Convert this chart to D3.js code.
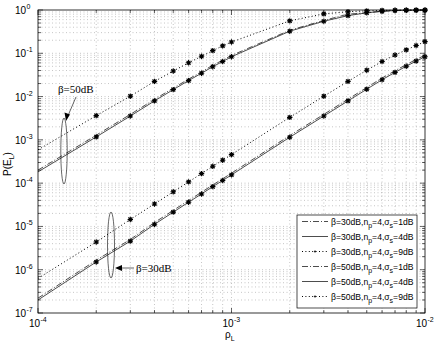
<!DOCTYPE html>
<html><head><meta charset="utf-8">
<script src="https://cdn.jsdelivr.net/npm/d3@7"></script>
<style>body{margin:0;background:#fff}svg{display:block}</style>
</head><body>
<svg id="c" width="436" height="346"></svg>
<script>
const rho = [1e-4,2e-4,3e-4,4e-4,5e-4,6e-4,7e-4,8e-4,9e-4,1e-3,2e-3,3e-3,4e-3,5e-3,6e-3,7e-3,8e-3,9e-3,1e-2];
const p30s1 = [2.2e-7,1.66e-6,5.0e-6,1.23e-5,2.35e-5,3.98e-5,6.17e-5,9.1e-5,1.26e-4,1.70e-4,1.26e-3,3.88e-3,8.7e-3,0.0162,0.0268,0.0396,0.0546,0.0720,0.0905];
const p30s4 = [2.0e-7,1.51e-6,4.57e-6,1.12e-5,2.14e-5,3.63e-5,5.62e-5,8.32e-5,1.15e-4,1.55e-4,1.15e-3,3.55e-3,7.94e-3,0.0148,0.0245,0.0363,0.0501,0.0661,0.0832];
const p30s9 = [6.31e-7,4.37e-6,1.45e-5,3.31e-5,6.31e-5,1.07e-4,1.66e-4,2.45e-4,3.39e-4,4.57e-4,3.31e-3,0.0102,0.0224,0.0407,0.0646,0.0912,0.120,0.151,0.186];
const p50s1 = [2.0e-4,1.28e-3,3.88e-3,8.6e-3,0.0157,0.0253,0.0374,0.0527,0.0693,0.089,0.340,0.575,0.80,0.866,0.936,0.974,0.987,0.993,0.995];
const p50s4 = [1.82e-4,1.17e-3,3.55e-3,7.94e-3,0.0145,0.0234,0.0347,0.0490,0.0646,0.0832,0.324,0.550,0.741,0.861,0.933,0.973,0.986,0.993,0.995];
const p50s9 = [5.89e-4,3.63e-3,0.0102,0.0224,0.0389,0.0603,0.0851,0.115,0.148,0.182,0.562,0.813,0.912,0.955,0.977,0.989,0.993,0.995,0.998];
const xTickExp = [-4,-3,-2];
const yTickExp = [0,-1,-2,-3,-4,-5,-6,-7];
const legendLabels = [
  ["β=30dB,n","p","=4,σ","s","=1dB"],
  ["β=30dB,n","p","=4,σ","s","=4dB"],
  ["β=30dB,n","p","=4,σ","s","=9dB"],
  ["β=50dB,n","p","=4,σ","s","=1dB"],
  ["β=50dB,n","p","=4,σ","s","=4dB"],
  ["β=50dB,n","p","=4,σ","s","=9dB"]
];

const L=38, R=425, T=10, B=313;
const svg = d3.select("#c");
const x = d3.scaleLog().domain([1e-4,1e-2]).range([L,R]);
const y = d3.scaleLog().domain([1e-7,1]).range([B,T]);

const xg=[], yg=[];
for (let e=-4;e<-2;e++) for (let m=1;m<10;m++) xg.push(m*Math.pow(10,e));
xg.push(1e-2);
for (let e=-7;e<0;e++) for (let m=1;m<10;m++) yg.push(m*Math.pow(10,e));
yg.push(1);

const grid = svg.append("g").attr("stroke","#a0a0a0").attr("stroke-width",0.6).attr("stroke-dasharray","1,2.5");
grid.selectAll("line.gx").data(xg.filter(v=>v>1e-4*1.01 && v<1e-2*0.99)).join("line")
  .attr("x1",d=>x(d)).attr("x2",d=>x(d)).attr("y1",T).attr("y2",B);
grid.selectAll("line.gy").data(yg.filter(v=>v>1e-7*1.01 && v<0.99)).join("line")
  .attr("y1",d=>y(d)).attr("y2",d=>y(d)).attr("x1",L).attr("x2",R);

const tk = svg.append("g").attr("stroke","#000").attr("stroke-width",0.6);
xg.forEach(v=>{
  const major = xTickExp.some(e=>Math.abs(Math.log10(v)-e)<1e-6);
  const len = major?5:3;
  tk.append("line").attr("x1",x(v)).attr("x2",x(v)).attr("y1",B).attr("y2",B-len);
  tk.append("line").attr("x1",x(v)).attr("x2",x(v)).attr("y1",T).attr("y2",T+len);
});
yg.forEach(v=>{
  const major = yTickExp.some(e=>Math.abs(Math.log10(v)-e)<1e-6);
  const len = major?5:3;
  tk.append("line").attr("y1",y(v)).attr("y2",y(v)).attr("x1",L).attr("x2",L+len);
  tk.append("line").attr("y1",y(v)).attr("y2",y(v)).attr("x1",R).attr("x2",R-len);
});

const line = d3.line().x((d,i)=>x(rho[i])).y(d=>y(d));
const styles = [
  {data:p30s1, dash:"6,2,1,2", w:0.7},
  {data:p30s4, dash:null, w:0.7},
  {data:p30s9, dash:"1,2.4", w:1.0},
  {data:p50s1, dash:"6,2,1,2", w:0.7},
  {data:p50s4, dash:null, w:0.7},
  {data:p50s9, dash:"1,2.4", w:1.0}
];
const cg = svg.append("g");
styles.forEach(s=>{
  cg.append("path").attr("d",line(s.data)).attr("fill","none").attr("stroke","#000")
    .attr("stroke-width",s.w).attr("stroke-dasharray",s.dash);
});

const star = (g,cx,cy,r)=>{
  const p=d3.path();
  p.moveTo(cx-r,cy);p.lineTo(cx+r,cy);
  p.moveTo(cx,cy-r);p.lineTo(cx,cy+r);
  const k=r*0.72;
  p.moveTo(cx-k,cy-k);p.lineTo(cx+k,cy+k);
  p.moveTo(cx-k,cy+k);p.lineTo(cx+k,cy-k);
  g.append("path").attr("d",p.toString()).attr("stroke","#000").attr("stroke-width",1.1).attr("fill","none");
};
const mg = svg.append("g");
[p30s4,p30s9,p50s4,p50s9].forEach(arr=>{
  arr.forEach((v,i)=>{ if(i>0) star(mg,x(rho[i]),y(v),2.7); });
});

svg.append("rect").attr("x",L).attr("y",T).attr("width",R-L).attr("height",B-T)
  .attr("fill","none").attr("stroke","#000").attr("stroke-width",0.8);

const font = "Liberation Sans, Arial, sans-serif";
yTickExp.forEach(e=>{
  svg.append("text").attr("x",L-12).attr("y",y(Math.pow(10,e))+4)
    .attr("font-family",font).attr("font-size",10).attr("text-anchor","end").text("10");
  svg.append("text").attr("x",L-11.5).attr("y",y(Math.pow(10,e))-1)
    .attr("font-family",font).attr("font-size",7).text(e);
});
xTickExp.forEach(e=>{
  svg.append("text").attr("x",x(Math.pow(10,e))+2).attr("y",B+14)
    .attr("font-family",font).attr("font-size",10).attr("text-anchor","end").text("10");
  svg.append("text").attr("x",x(Math.pow(10,e))+2.5).attr("y",B+9)
    .attr("font-family",font).attr("font-size",7).text(e);
});

const xl = svg.append("text").attr("x",225).attr("y",338).attr("font-family",font).attr("font-size",10);
xl.append("tspan").text("ρ");
xl.append("tspan").attr("font-size",7).attr("dy",3).text("L");
const yl = svg.append("text").attr("transform","translate(11,164) rotate(-90)")
  .attr("font-family",font).attr("font-size",10).attr("text-anchor","middle");
yl.append("tspan").text("P(E");
yl.append("tspan").attr("font-size",7).attr("dy",3).text("L");
yl.append("tspan").attr("dy",-3).text(")");

const serif = "Liberation Serif, Times New Roman, serif";
svg.append("ellipse").attr("cx",64).attr("cy",151).attr("rx",3.2).attr("ry",33)
  .attr("fill","none").attr("stroke","#000").attr("stroke-width",0.6);
svg.append("ellipse").attr("cx",111).attr("cy",245).attr("rx",3.5).attr("ry",33)
  .attr("fill","none").attr("stroke","#000").attr("stroke-width",0.6);
svg.append("line").attr("x1",76).attr("y1",97).attr("x2",67).attr("y2",118).attr("stroke","#000").attr("stroke-width",0.6);
svg.append("path").attr("d","M66,121 L64.5,112.5 L70,114.5 Z").attr("fill","#000");
svg.append("text").attr("x",58).attr("y",93).attr("font-family",serif).attr("font-size",11).text("β=50dB");
svg.append("line").attr("x1",134).attr("y1",268).attr("x2",118).attr("y2",268).attr("stroke","#000").attr("stroke-width",0.6);
svg.append("path").attr("d","M115,268 L122,265 L122,271 Z").attr("fill","#000");
svg.append("text").attr("x",136).attr("y",272).attr("font-family",serif).attr("font-size",11).text("β=30dB");

const lg = svg.append("g");
lg.append("rect").attr("x",297).attr("y",215).attr("width",120).attr("height",93)
  .attr("fill","#fff").attr("stroke","#000").attr("stroke-width",0.7);
const ly0 = 221.5, ldy = 15;
legendLabels.forEach((lab,i)=>{
  const yy = ly0 + i*ldy;
  const s = styles[i];
  lg.append("line").attr("x1",302).attr("x2",328).attr("y1",yy).attr("y2",yy)
    .attr("stroke","#000").attr("stroke-width",s.w).attr("stroke-dasharray",s.dash);
  if (i===2||i===5) lg.append("circle").attr("cx",315).attr("cy",yy).attr("r",0.9).attr("fill","#000");
  const t = lg.append("text").attr("x",331).attr("y",yy+3).attr("font-family",font).attr("font-size",8.6);
  t.append("tspan").text(lab[0]);
  t.append("tspan").attr("font-size",7).attr("dy",3).text(lab[1]);
  t.append("tspan").attr("dy",-3).text(lab[2]);
  t.append("tspan").attr("font-size",7).attr("dy",3).text(lab[3]);
  t.append("tspan").attr("dy",-3).text(lab[4]);
});
</script>
</body></html>
